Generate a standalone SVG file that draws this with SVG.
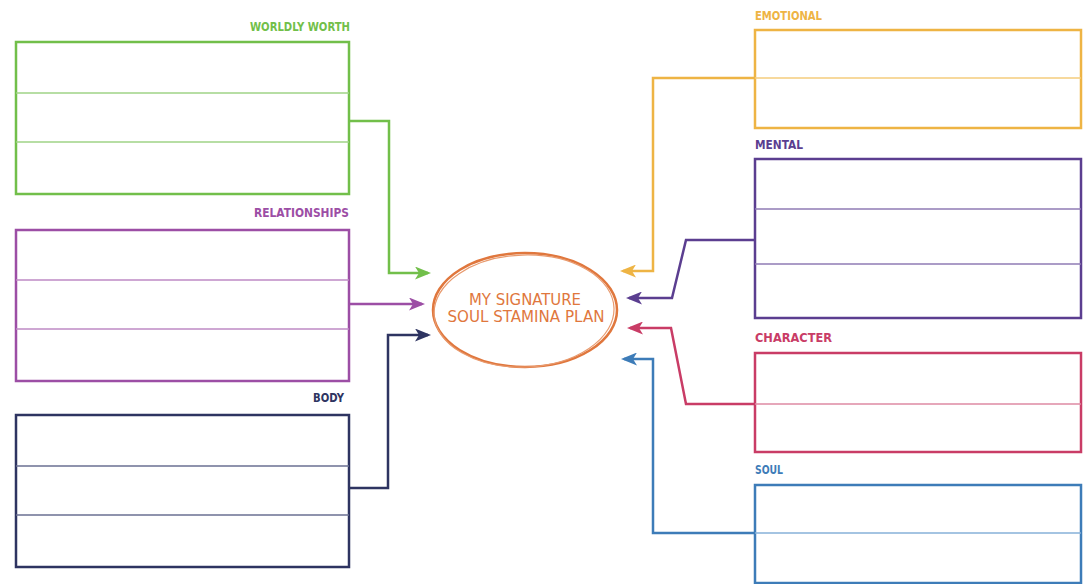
<svg xmlns="http://www.w3.org/2000/svg" width="1085" height="584" viewBox="0 0 1085 584">
<style>
.box{fill:none;stroke-width:2.5}
.row{stroke-width:1.5;fill:none}
.lbl{font-family:"DejaVu Sans Condensed","DejaVu Sans",sans-serif;font-weight:bold;font-size:13px}
.con{fill:none;stroke-width:2.5;stroke-linejoin:miter}
.ctr{font-family:"DejaVu Sans Condensed","DejaVu Sans",sans-serif;font-size:16px;fill:#e0773d;text-anchor:middle}
</style>
<defs>
<marker id="aG" viewBox="0 0 16 13" markerWidth="16" markerHeight="13" refX="13" refY="6.5" orient="auto" markerUnits="userSpaceOnUse"><path d="M0,0 L16,6.5 L0,13 L4,6.5 z" fill="#72bf4a"/></marker>
<marker id="aR" viewBox="0 0 16 13" markerWidth="16" markerHeight="13" refX="13" refY="6.5" orient="auto" markerUnits="userSpaceOnUse"><path d="M0,0 L16,6.5 L0,13 L4,6.5 z" fill="#9c4ea5"/></marker>
<marker id="aB" viewBox="0 0 16 13" markerWidth="16" markerHeight="13" refX="13" refY="6.5" orient="auto" markerUnits="userSpaceOnUse"><path d="M0,0 L16,6.5 L0,13 L4,6.5 z" fill="#2e3461"/></marker>
<marker id="aE" viewBox="0 0 16 13" markerWidth="16" markerHeight="13" refX="13" refY="6.5" orient="auto" markerUnits="userSpaceOnUse"><path d="M0,0 L16,6.5 L0,13 L4,6.5 z" fill="#eeb444"/></marker>
<marker id="aM" viewBox="0 0 16 13" markerWidth="16" markerHeight="13" refX="13" refY="6.5" orient="auto" markerUnits="userSpaceOnUse"><path d="M0,0 L16,6.5 L0,13 L4,6.5 z" fill="#5b3e90"/></marker>
<marker id="aC" viewBox="0 0 16 13" markerWidth="16" markerHeight="13" refX="13" refY="6.5" orient="auto" markerUnits="userSpaceOnUse"><path d="M0,0 L16,6.5 L0,13 L4,6.5 z" fill="#c93c66"/></marker>
<marker id="aS" viewBox="0 0 16 13" markerWidth="16" markerHeight="13" refX="13" refY="6.5" orient="auto" markerUnits="userSpaceOnUse"><path d="M0,0 L16,6.5 L0,13 L4,6.5 z" fill="#3d7cb8"/></marker>
</defs>
<rect width="1085" height="584" fill="#ffffff"/>

<g id="worldly-worth">
<text class="lbl" x="350" y="31" text-anchor="end" fill="#72bf4a" textLength="100" lengthAdjust="spacingAndGlyphs">WORLDLY WORTH</text>
<rect class="box" x="16" y="42" width="333" height="152" stroke="#72bf4a"/>
<line class="row" x1="16" y1="93" x2="349" y2="93" stroke="#9fd386"/>
<line class="row" x1="16" y1="142" x2="349" y2="142" stroke="#9fd386"/>
</g>

<g id="relationships">
<text class="lbl" x="349" y="217" text-anchor="end" fill="#9c4ea5" textLength="95" lengthAdjust="spacingAndGlyphs">RELATIONSHIPS</text>
<rect class="box" x="16" y="230" width="333" height="151" stroke="#9c4ea5"/>
<line class="row" x1="16" y1="280" x2="349" y2="280" stroke="#be8ac5"/>
<line class="row" x1="16" y1="329" x2="349" y2="329" stroke="#be8ac5"/>
</g>

<g id="body">
<text class="lbl" x="344" y="402" text-anchor="end" fill="#2e3461" textLength="31" lengthAdjust="spacingAndGlyphs">BODY</text>
<rect class="box" x="16" y="415" width="333" height="152" stroke="#2e3461"/>
<line class="row" x1="16" y1="466" x2="349" y2="466" stroke="#6a6f92"/>
<line class="row" x1="16" y1="515" x2="349" y2="515" stroke="#6a6f92"/>
</g>

<g id="emotional">
<text class="lbl" x="755" y="20" fill="#eeb444" textLength="67" lengthAdjust="spacingAndGlyphs">EMOTIONAL</text>
<rect class="box" x="755" y="30" width="326" height="98" stroke="#eeb444"/>
<line class="row" x1="755" y1="78" x2="1081" y2="78" stroke="#f4cd7d"/>
</g>

<g id="mental">
<text class="lbl" x="755" y="149" fill="#5b3e90" textLength="48" lengthAdjust="spacingAndGlyphs">MENTAL</text>
<rect class="box" x="755" y="159" width="326" height="159" stroke="#5b3e90"/>
<line class="row" x1="755" y1="209" x2="1081" y2="209" stroke="#8f7bb5"/>
<line class="row" x1="755" y1="264" x2="1081" y2="264" stroke="#8f7bb5"/>
</g>

<g id="character">
<text class="lbl" x="755" y="342" fill="#c93c66" textLength="77" lengthAdjust="spacingAndGlyphs">CHARACTER</text>
<rect class="box" x="755" y="353" width="326" height="99" stroke="#c93c66"/>
<line class="row" x1="755" y1="404" x2="1081" y2="404" stroke="#de8aa3"/>
</g>

<g id="soul">
<text class="lbl" x="755" y="474" fill="#3d7cb8" textLength="28" lengthAdjust="spacingAndGlyphs">SOUL</text>
<rect class="box" x="755" y="485" width="326" height="98" stroke="#3d7cb8"/>
<line class="row" x1="755" y1="533" x2="1081" y2="533" stroke="#86b0d8"/>
</g>

<g id="center">
<ellipse cx="525" cy="310" rx="92" ry="57" fill="none" stroke="#e0773d" stroke-width="2.5"/>
<ellipse cx="524" cy="311" rx="90" ry="56" fill="none" stroke="#e89a6e" stroke-width="1.2" transform="rotate(-2 525 310)"/>
<text class="ctr" x="525" y="305" textLength="112" lengthAdjust="spacingAndGlyphs">MY SIGNATURE</text>
<text class="ctr" x="526" y="322" textLength="157" lengthAdjust="spacingAndGlyphs">SOUL STAMINA PLAN</text>
</g>

<g id="connectors">
<path class="con" d="M349,121 H389 V273 H428" stroke="#72bf4a" marker-end="url(#aG)"/>
<path class="con" d="M349,304 H422" stroke="#9c4ea5" marker-end="url(#aR)"/>
<path class="con" d="M349,488 H388 V335 H428" stroke="#2e3461" marker-end="url(#aB)"/>
<path class="con" d="M755,78 H653 V271 H623" stroke="#eeb444" marker-end="url(#aE)"/>
<path class="con" d="M755,240 H686 L672,298 H629" stroke="#5b3e90" marker-end="url(#aM)"/>
<path class="con" d="M755,404 H686 L671,328 H630" stroke="#c93c66" marker-end="url(#aC)"/>
<path class="con" d="M755,533 H653 V359 H624" stroke="#3d7cb8" marker-end="url(#aS)"/>
</g>
</svg>
